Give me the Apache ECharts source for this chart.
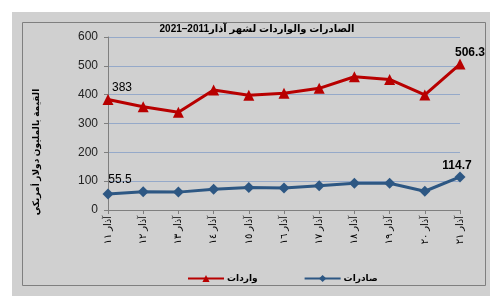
<!DOCTYPE html>
<html><head><meta charset="utf-8">
<script src="https://cdn.jsdelivr.net/npm/echarts@6/dist/echarts.min.js"></script>
<style>html,body{margin:0;padding:0;background:#fff}#c{width:490px;height:300px}</style>
</head><body><div id="c"></div>
<script>
const categories = ['آذار ١١','آذار ١٢','آذار ١٣','آذار ١٤','آذار ١٥','آذار ١٦','آذار ١٧','آذار ١٨','آذار ١٩','آذار ٢٠','آذار ٢١'];
const imports = [383, 358, 339, 416, 398, 405, 422, 462, 453, 399, 506.3];
const exports_ = [55.5, 63, 62, 72, 78, 76, 84, 93, 93, 65, 114.7];
const importsName = 'واردات';
const exportsName = 'صادرات';
const titleText = 'الصادرات والواردات لشهر آذار2011–2021';
const yName = 'القيمة بالمليون دولار أمريكي';

const FONT = 'Arial, "Liberation Sans", "DejaVu Sans", sans-serif';
const chart = echarts.init(document.getElementById('c'), null, {renderer:'canvas'});

function endLabels(arr, offsets) {
  return arr.map((v, i) => {
    if (i === 0 || i === arr.length - 1) {
      const o = i === 0 ? offsets[0] : offsets[1];
      return {value: v, label: {show: true, position: 'top', offset: o.off, fontWeight: o.bold ? 'bold' : 'normal'}};
    }
    return v;
  });
}

chart.setOption({
  backgroundColor: '#ffffff',
  animation: false,
  graphic: [
    {type: 'rect', shape: {x: 12, y: 12, width: 478, height: 284}, style: {fill: '#d0d0d0'}, z: -10, silent: true},
    {type: 'rect', shape: {x: 22.5, y: 22.5, width: 463, height: 263}, style: {fill: 'none', stroke: '#7f7f7f', lineWidth: 1}, z: -9, silent: true},
    {type: 'text', x: 37, y: 152, rotation: Math.PI / 2, silent: true,
     style: {text: yName, fill: '#000', font: 'bold 9px ' + FONT, align: 'center', verticalAlign: 'middle'}}
  ],
  title: {
    text: titleText, left: 252, top: 19, textAlign: 'center',
    textStyle: {fontFamily: FONT, fontSize: 10, fontWeight: 'bold', color: '#000'}
  },
  legend: {
    data: [importsName, exportsName], left: 182, top: 269, itemWidth: 36, itemHeight: 9, itemGap: 46,
    textStyle: {fontFamily: FONT, fontSize: 9, fontWeight: 'bold', color: '#000', padding: [0, 0, 0, -2]}
  },
  grid: {left: 108, right: 30, top: 37, bottom: 90},
  xAxis: {
    type: 'category', data: categories, boundaryGap: false,
    axisLine: {lineStyle: {color: '#7f7f7f', width: 1}},
    axisTick: {show: true, length: 4, alignWithLabel: true, lineStyle: {color: '#7f7f7f'}},
    axisLabel: {rotate: 90, fontFamily: FONT, fontSize: 10, color: '#000', margin: 6, interval: 0}
  },
  yAxis: {
    type: 'value', min: 0, max: 600, interval: 100,
    axisLine: {show: true, lineStyle: {color: '#7f7f7f', width: 1}},
    axisTick: {show: true, length: 4, lineStyle: {color: '#7f7f7f'}},
    axisLabel: {fontFamily: FONT, fontSize: 12, color: '#222', margin: 10},
    splitLine: {lineStyle: {color: '#95a9c9', width: 1}}
  },
  series: [
    {
      name: importsName, type: 'line', data: endLabels(imports, [{off: [14, 5]}, {off: [10, 5], bold: true}]),
      symbol: 'triangle', symbolSize: 11,
      lineStyle: {color: '#b80000', width: 3}, itemStyle: {color: '#b80000'},
      label: {show: false, fontFamily: FONT, fontSize: 12, color: '#000'}
    },
    {
      name: exportsName, type: 'line', data: endLabels(exports_, [{off: [12, 2]}, {off: [-3, 5], bold: true}]),
      symbol: 'diamond', symbolSize: 11,
      lineStyle: {color: '#2d5783', width: 3}, itemStyle: {color: '#2d5783'},
      label: {show: false, fontFamily: FONT, fontSize: 12, color: '#000'}
    }
  ]
});
</script></body></html>
